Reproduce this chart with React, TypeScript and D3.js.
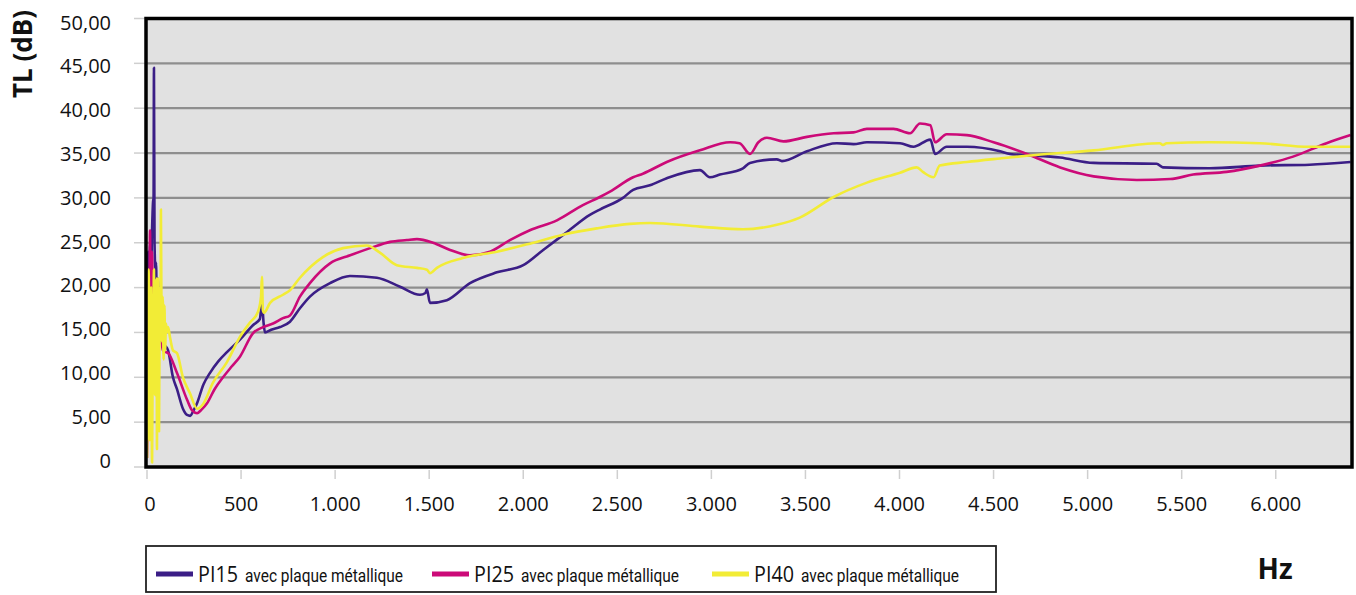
import React, { useEffect } from "react";
import * as d3 from "d3";

// frequency (Hz) / transmission loss (dB)
const pi15Freq = [0, 5, 10, 16, 21, 27, 32, 35, 37, 40, 45, 48, 53, 58, 64, 69, 74, 80, 90, 101, 112, 138, 159, 191, 213, 230, 245, 266, 300, 335, 380, 425, 494, 563, 600, 611, 620, 627, 660, 707, 760, 813, 866, 973, 1079, 1222, 1345, 1451, 1480, 1488, 1504, 1594, 1717, 1860, 2000, 2106, 2233, 2354, 2407, 2530, 2584, 2673, 2763, 2939, 2992, 3045, 3168, 3205, 3348, 3375, 3508, 3667, 3756, 3827, 4003, 4074, 4164, 4189, 4251, 4358, 4535, 4588, 4854, 5032, 5367, 5400, 5650, 5915, 6180, 6398];
const pi15Values = [20, 24, 19, 25, 21, 26.5, 29.5, 30, 44.5, 25, 22, 22.8, 17, 21, 15.5, 17, 14.5, 15, 13.5, 13.4, 13, 10, 8.7, 6.5, 5.8, 5.7, 6.2, 7.1, 9.2, 10.5, 11.8, 12.8, 14.2, 15.8, 16.5, 18.3, 16, 15, 15.3, 15.6, 16.2, 17.7, 19.0, 20.5, 21.3, 21.1, 20.1, 19.2, 19.4, 19.8, 18.3, 18.6, 20.5, 21.7, 22.5, 24.2, 26.2, 28.1, 28.7, 30.0, 30.9, 31.4, 32.2, 33.1, 32.3, 32.6, 33.3, 33.9, 34.3, 34.1, 35.2, 36.1, 36.0, 36.2, 36.1, 35.7, 36.5, 34.9, 35.7, 35.7, 35.2, 34.9, 34.5, 33.9, 33.8, 33.4, 33.3, 33.6, 33.7, 34.0];

const pi25Freq = [0, 3, 5, 8, 10, 13, 16, 19, 21, 24, 27, 30, 32, 37, 43, 48, 53, 64, 74, 85, 101, 112, 159, 213, 240, 266, 290, 319, 360, 404, 450, 494, 563, 617, 670, 723, 760, 813, 866, 973, 1080, 1186, 1292, 1381, 1435, 1520, 1611, 1717, 1823, 1929, 2035, 2179, 2317, 2407, 2461, 2584, 2636, 2763, 2939, 3100, 3150, 3205, 3250, 3295, 3383, 3508, 3650, 3756, 3827, 3968, 4056, 4109, 4164, 4189, 4251, 4358, 4500, 4677, 4854, 5032, 5262, 5439, 5561, 5738, 5915, 6092, 6270, 6398];
const pi25Values = [1, 5, 9, 17, 20, 14, 26.4, 18, 22, 15, 24, 19, 17, 20, 16, 18, 14, 15, 14.5, 13, 12.8, 12.7, 10.5, 7.5, 6.3, 6.0, 6.4, 7.1, 8.7, 10.0, 11.2, 12.3, 14.9, 15.6, 16.0, 16.6, 16.9, 19.0, 20.5, 22.7, 23.6, 24.4, 25.1, 25.3, 25.4, 25.0, 24.2, 23.6, 24.0, 25.3, 26.4, 27.5, 29.2, 30.1, 30.7, 32.3, 32.7, 34.0, 35.3, 36.2, 36.1, 34.9, 36.2, 36.7, 36.3, 36.8, 37.2, 37.3, 37.7, 37.7, 37.2, 38.3, 38.1, 36.2, 37.1, 37.0, 36.2, 34.9, 33.4, 32.4, 32.0, 32.1, 32.6, 32.9, 33.6, 34.6, 36.1, 37.0];

const pi40Freq = [0, 5, 8, 11, 14, 16, 19, 21, 24, 27, 30, 32, 35, 37, 40, 43, 46, 48, 51, 53, 56, 58, 61, 64, 67, 69, 72, 74, 77, 80, 83, 85, 88, 90, 93, 96, 101, 106, 112, 122, 138, 159, 191, 229, 266, 298, 351, 425, 494, 547, 590, 606, 611, 616, 622, 654, 723, 760, 813, 935, 1042, 1169, 1238, 1328, 1435, 1488, 1504, 1541, 1679, 1860, 2035, 2211, 2391, 2567, 2673, 2939, 3168, 3348, 3470, 3650, 3827, 4003, 4092, 4124, 4181, 4214, 4358, 4535, 4677, 5032, 5383, 5400, 5420, 5650, 5915, 6180, 6398];
const pi40Values = [1, 10, 22, 18, 3, 5, 17, 20, 8, 0.5, 12, 14, 19, 22, 9, 8, 19, 15, 21, 2, 18, 21, 10, 4, 17, 20, 15, 28.7, 17, 14, 19, 18, 12, 15, 18, 13, 16, 15, 15.6, 14.5, 13, 12.7, 10, 8.2, 6.5, 7.0, 9.4, 11.7, 14.5, 16.1, 17.3, 19, 21.2, 17.5, 17.2, 18.3, 19.2, 19.7, 21.1, 23.4, 24.4, 24.7, 23.9, 22.5, 22.2, 22.0, 21.6, 22.2, 23.3, 24.0, 24.9, 25.9, 26.6, 27.1, 27.2, 26.8, 26.5, 27.0, 27.8, 30.1, 31.7, 32.8, 33.4, 32.9, 32.3, 33.6, 34.0, 34.4, 34.7, 35.3, 36.1, 35.9, 36.1, 36.2, 36.1, 35.7, 35.7];

const seriesNames = ["PI15", "PI25", "PI40"];
const seriesColors = ["#3b1e86", "#cc0a78", "#f2ec36"];
const legendSuffix = "avec plaque métallique";

const yTicks = [0, 5, 10, 15, 20, 25, 30, 35, 40, 45, 50];
const xTicks = [0, 500, 1000, 1500, 2000, 2500, 3000, 3500, 4000, 4500, 5000, 5500, 6000];

const fmtY = (v: number) => (v === 0 ? "0" : v.toFixed(2).replace(".", ","));
const fmtX = (v: number) => d3.format(",")(v).replace(/,/g, ".");

export default function App() {
  useEffect(() => {
    document.body.style.margin = "0";
  }, []);

  const width = 1356;
  const height = 595;
  const plot = { left: 146, right: 1352, top: 18.5, bottom: 467 };

  const x = d3.scaleLinear().domain([0, 6400]).range([147, 1351]);
  const y = d3.scaleLinear().domain([0, 50]).range([plot.bottom, plot.top]);
  // the labels sit slightly off the grid lines in the original
  const yLabel = d3.scaleLinear().domain([0, 50]).range([460, 22]);

  const series = [
    { f: pi15Freq, v: pi15Values },
    { f: pi25Freq, v: pi25Values },
    { f: pi40Freq, v: pi40Values },
  ];

  const line = d3
    .line<[number, number]>()
    .x((d) => x(d[0]))
    .y((d) => y(d[1]))
    .curve(d3.curveMonotoneX);

  const tickFont = "'Open Sans', sans-serif";
  const narrowFont = "'Roboto', 'Open Sans', sans-serif";

  const legend = { left: 146, top: 546, right: 996, bottom: 592 };
  const legendSampleX = [156, 432, 712];

  return (
    <svg
      width={width}
      height={height}
      style={{ display: "block", background: "#ffffff" }}
    >
      <rect
        x={plot.left}
        y={plot.top}
        width={plot.right - plot.left}
        height={plot.bottom - plot.top}
        fill="#e1e1e1"
      />
      {yTicks.map((t) => (
        <g key={"gy" + t}>
          <line
            x1={plot.left}
            x2={plot.right}
            y1={y(t)}
            y2={y(t)}
            stroke="#8e8e8e"
            strokeWidth={2.2}
          />
          <line x1={134} x2={plot.left} y1={y(t)} y2={y(t)} stroke="#cfcfcf" strokeWidth={1.5} />
          <text
            x={111}
            y={yLabel(t)}
            textAnchor="end"
            dominantBaseline="central"
            fontFamily={tickFont}
            fontSize={20}
            fill="#111"
          >
            {fmtY(t)}
          </text>
        </g>
      ))}
      {xTicks.map((t) => (
        <g key={"gx" + t}>
          <line x1={x(t)} x2={x(t)} y1={470} y2={479} stroke="#cfcfcf" strokeWidth={1.5} />
          <text
            x={x(t) + (t === 0 ? 3 : 0)}
            y={511}
            textAnchor="middle"
            fontFamily={tickFont}
            fontSize={20}
            fill="#111"
          >
            {fmtX(t)}
          </text>
        </g>
      ))}

      <defs>
        <clipPath id="plotClip">
          <rect x={plot.left} y={plot.top} width={plot.right - plot.left} height={plot.bottom - plot.top} />
        </clipPath>
      </defs>
      <g clipPath="url(#plotClip)">
        {series.map((s, i) => (
          <path
            key={seriesNames[i]}
            d={line(s.f.map((f, j) => [f, s.v[j]] as [number, number])) || ""}
            fill="none"
            stroke={seriesColors[i]}
            strokeWidth={2.6}
            strokeLinejoin="round"
          />
        ))}
      </g>

      <rect
        x={plot.left}
        y={plot.top}
        width={plot.right - plot.left}
        height={plot.bottom - plot.top}
        fill="none"
        stroke="#000"
        strokeWidth={3.5}
      />

      <text
        transform={`translate(32, 54) rotate(-90)`}
        textAnchor="middle"
        fontFamily={tickFont}
        fontWeight="bold"
        fontSize={26}
        fill="#111"
      >
        TL (dB)
      </text>
      <text
        x={1275}
        y={579}
        textAnchor="middle"
        fontFamily={tickFont}
        fontWeight="bold"
        fontSize={28}
        fill="#111"
      >
        Hz
      </text>

      <rect
        x={legend.left}
        y={legend.top}
        width={legend.right - legend.left}
        height={legend.bottom - legend.top}
        fill="#fff"
        stroke="#222"
        strokeWidth={1.8}
      />
      {seriesNames.map((name, i) => (
        <g key={"lg" + name}>
          <line
            x1={legendSampleX[i]}
            x2={legendSampleX[i] + 37}
            y1={574}
            y2={574}
            stroke={seriesColors[i]}
            strokeWidth={5}
          />
          <text
            x={legendSampleX[i] + 42}
            y={582}
            fontFamily={tickFont}
            fontSize={21}
            textLength={40}
            lengthAdjust="spacingAndGlyphs"
            fill="#111"
          >
            {name}
          </text>
          <text
            x={legendSampleX[i] + 89}
            y={582}
            fontFamily={narrowFont}
            fontSize={18}
            textLength={158}
            lengthAdjust="spacingAndGlyphs"
            fill="#111"
          >
            {legendSuffix}
          </text>
        </g>
      ))}
    </svg>
  );
}
